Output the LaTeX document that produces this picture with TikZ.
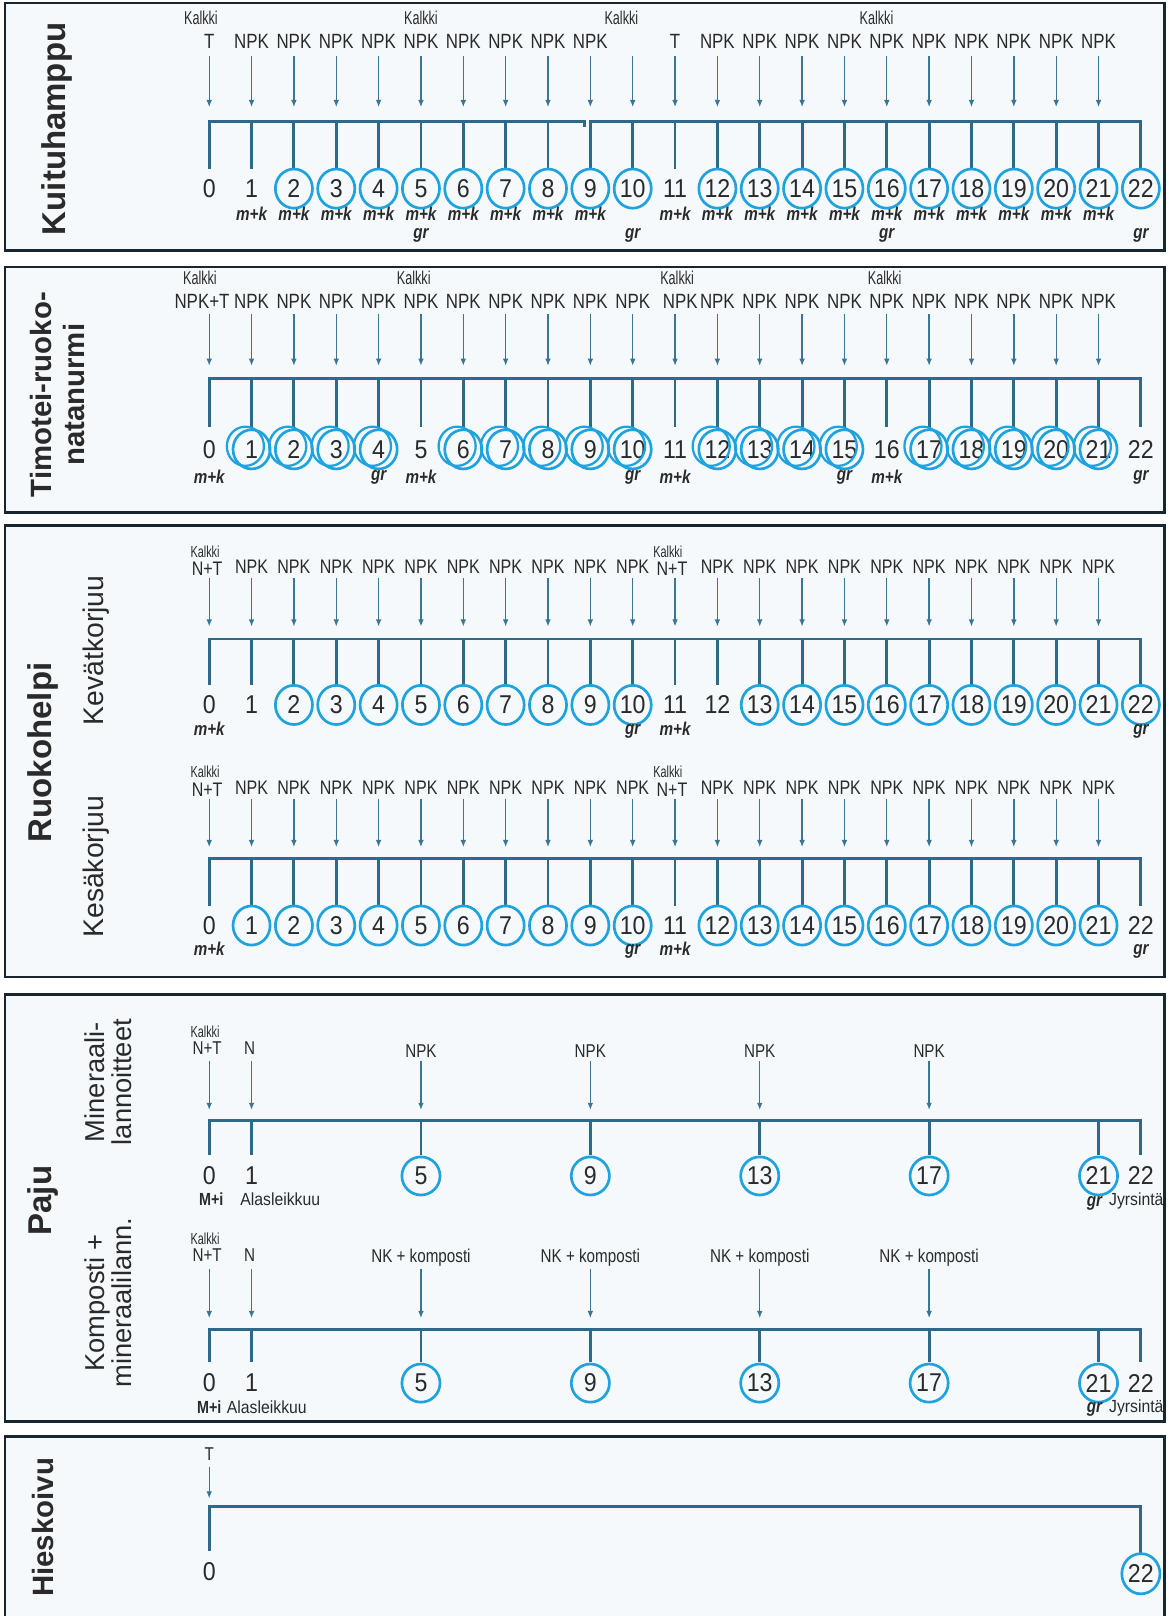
\documentclass[tikz,border=0pt]{standalone}
\usepackage{fontspec}
\setmainfont{Liberation Sans}
\newfontfamily\cnd{Liberation Sans}[FakeStretch=0.82]
\newfontfamily\cndk{Liberation Sans}[FakeStretch=0.68]
\newfontfamily\cnum{Liberation Sans}[FakeStretch=0.9]
\usetikzlibrary{arrows.meta,shapes.geometric}
\definecolor{lineblue}{HTML}{2D6A89}
\definecolor{arrblue}{HTML}{3A7694}
\definecolor{circblue}{HTML}{1FA3DF}
\definecolor{frame}{HTML}{18262E}
\definecolor{panelbg}{HTML}{F5F9FC}
\definecolor{txt}{HTML}{2A2A2A}
\newcommand\posx[1]{203+41.09*#1}
\begin{document}
\begin{tikzpicture}[x=1pt,y=-1pt,
  panel/.style={draw=frame,line width=2.6pt,fill=panelbg},
  ttl/.style={rotate=90,font=\bfseries\fontsize{32}{33}\selectfont,text=txt,align=center,inner sep=0pt},
  ttlsm/.style={rotate=90,font=\bfseries\fontsize{28.5}{32}\selectfont,text=txt,align=center,inner sep=0pt},
  sub/.style={rotate=90,font=\fontsize{27.5}{30}\selectfont,text=txt,align=center,inner sep=0pt},
  subtwo/.style={rotate=90,font=\fontsize{26.5}{27}\selectfont,text=txt,align=center,inner sep=0pt},
  lab/.style={font=\cnd\fontsize{20}{20}\selectfont,text=txt,inner sep=0pt},
  labs/.style={font=\cnd\fontsize{19}{19}\selectfont,text=txt,inner sep=0pt},
  labp/.style={font=\cnd\fontsize{18}{18}\selectfont,text=txt,inner sep=0pt},
  labq/.style={font=\cnum\fontsize{17}{17}\selectfont,text=txt,inner sep=0pt},
  kal/.style={font=\cndk\fontsize{18}{18}\selectfont,text=txt,inner sep=0pt},
  kals/.style={font=\cndk\fontsize{15.5}{15.5}\selectfont,text=txt,inner sep=0pt},
  mk/.style={font=\cnd\bfseries\itshape\fontsize{18}{18}\selectfont,text=txt,inner sep=0pt},
  mkb/.style={font=\cnd\bfseries\fontsize{17}{17}\selectfont,text=txt,inner sep=0pt},
  num/.style={font=\cnum\fontsize{25}{25}\selectfont,text=txt,inner sep=0pt},
  circ/.style={ellipse,draw=circblue,line width=2.6pt,minimum width=36pt,minimum height=38pt},
  circp/.style={ellipse,draw=circblue,line width=2.6pt,minimum width=37pt,minimum height=37pt},
  ring/.style={draw=circblue,line width=2.2pt},
  ln/.style={draw=lineblue,line width=2.8pt,line join=miter},
  arr/.style={draw=arrblue,line width=1.3pt,-{Latex[length=7pt,width=5.5pt]}},
]
\useasboundingbox (0,0) rectangle (1135,1568);
\fill[white] (0,0) rectangle (1135,1568);

%================ Panel 1: Kuituhamppu
\draw[panel] (5,3) rectangle (1130,243);
\node[ttl] (t-kuitu) at (55,125) {Kuituhamppu};
\foreach \i in {0,...,22}{
  \coordinate (l1-\i) at ({\posx{\i}},118);
  \coordinate (e1-\i) at ({\posx{\i}},164);
}
\foreach \i in {0,...,21}{
  \coordinate (a1-\i) at ({\posx{\i}},54);
  \coordinate (b1-\i) at ({\posx{\i}},104);
  \draw[arr] (a1-\i) -- (b1-\i);
}
\coordinate (s1) at ({\posx{9}-6},118);
\draw[ln] (e1-0) -- (l1-0) -- (s1) -- ++(0,5);
\draw[ln] (e1-9) -- (l1-9) -- (l1-22) -- (e1-22);
\foreach \i in {1,2,3,4,5,6,7,8,10,11,12,13,14,15,16,17,18,19,20,21}
  \draw[ln] (l1-\i) -- (e1-\i);
\foreach \i in {0,1,11} \node[num] (n1-\i) at ({\posx{\i}},183) {\i};
\foreach \i in {2,3,4,5,6,7,8,9,10,12,13,14,15,16,17,18,19,20,21,22}
  \node[num,circ] (n1-\i) at ({\posx{\i}},183) {\i};
\node[lab] (p1-0) at ({\posx{0}},40) {T};
\foreach \i in {1,...,9} \node[lab] (p1-\i) at ({\posx{\i}},40) {NPK};
\node[lab] (p1-11) at ({\posx{11}},40) {T};
\foreach \i in {12,...,21} \node[lab] (p1-\i) at ({\posx{\i}},40) {NPK};
\node[kal] (k1-0) at ({\posx{0}-8},17) {Kalkki};
\node[kal] (k1-5) at ({\posx{5}},17) {Kalkki};
\node[kal] (k1-10) at ({\posx{10}-11},17) {Kalkki};
\node[kal] (k1-16) at ({\posx{16}-10},17) {Kalkki};
\foreach \i in {1,2,3,4,5,6,7,8,9,11,12,13,14,15,16,17,18,19,20,21}
  \node[mk] (m1-\i) at ({\posx{\i}},207) {m+k};
\foreach \i in {5,10,16,22} \node[mk] (g1-\i) at ({\posx{\i}},228) {gr};

%================ Panel 2: Timotei-ruokonatanurmi
\draw[panel] (5,259) rectangle (1130,497);
\node[ttlsm] (t-timo) at (56,383) {Timotei-ruoko-\\natanurmi};
\foreach \i in {0,...,22}{
  \coordinate (l2-\i) at ({\posx{\i}},367);
  \coordinate (e2-\i) at ({\posx{\i}},414);
}
\foreach \i in {0,...,21}{
  \coordinate (a2-\i) at ({\posx{\i}},305);
  \coordinate (b2-\i) at ({\posx{\i}},355);
  \draw[arr] (a2-\i) -- (b2-\i);
}
\draw[ln] (e2-0) -- (l2-0) -- (l2-22) -- (e2-22);
\foreach \i in {1,...,21} \draw[ln] (l2-\i) -- (e2-\i);
\foreach \i in {0,5,11,16,22} \node[num] (n2-\i) at ({\posx{\i}},436) {\i};
\foreach \i in {1,2,3,4,6,7,8,9,10,12,13,14,15,17,18,19,20,21}{
  \node[num,circ] (n2-\i) at ({\posx{\i}},436) {\i};
  \draw[ring] ([shift={(-6,-3)}]n2-\i.center) ellipse [x radius=18pt,y radius=19pt];
}
\node[lab] (p2-0) at (196,292) {NPK+T};
\foreach \i in {1,...,10} \node[lab] (p2-\i) at ({\posx{\i}},292) {NPK};
\node[lab] (p2-11) at ({\posx{11}+5},292) {NPK};
\foreach \i in {12,...,21} \node[lab] (p2-\i) at ({\posx{\i}},292) {NPK};
\node[kal] (k2-0) at ({\posx{0}-9},270) {Kalkki};
\node[kal] (k2-5) at ({\posx{5}-7},270) {Kalkki};
\node[kal] (k2-11) at ({\posx{11}+2},270) {Kalkki};
\node[kal] (k2-16) at ({\posx{16}-2},270) {Kalkki};
\foreach \i in {0,5,11,16} \node[mk] (m2-\i) at ({\posx{\i}},463) {m+k};
\foreach \i in {4,10,15,22} \node[mk] (g2-\i) at ({\posx{\i}},463) {gr};

%================ Panel 3: Ruokohelpi
\draw[panel] (5,510) rectangle (1130,948);
\node[ttl] (t-ruoko) at (42,730) {Ruokohelpi};
\node[sub] (s-kevat) at (93,631) {Kevätkorjuu};
\node[sub] (s-kesa) at (93,841) {Kesäkorjuu};
% --- Kevätkorjuu
\foreach \i in {0,...,22}{
  \coordinate (l3-\i) at ({\posx{\i}},620);
  \coordinate (e3-\i) at ({\posx{\i}},665);
}
\foreach \i in {0,...,21}{
  \coordinate (a3-\i) at ({\posx{\i}},561);
  \coordinate (b3-\i) at ({\posx{\i}},608);
  \draw[arr] (a3-\i) -- (b3-\i);
}
\draw[ln] (e3-0) -- (l3-0) -- (l3-22) -- (e3-22);
\foreach \i in {1,...,21} \draw[ln] (l3-\i) -- (e3-\i);
\foreach \i in {0,1,11,12} \node[num] (n3-\i) at ({\posx{\i}},684) {\i};
\foreach \i in {2,3,4,5,6,7,8,9,10,13,14,15,16,17,18,19,20,21,22}
  \node[num,circ] (n3-\i) at ({\posx{\i}},684) {\i};
\node[labs] (p3-0) at ({\posx{0}-2},552) {N+T};
\foreach \i in {1,...,10} \node[labs] (p3-\i) at ({\posx{\i}},550) {NPK};
\node[labs] (p3-11) at ({\posx{11}-3},552) {N+T};
\foreach \i in {12,...,21} \node[labs] (p3-\i) at ({\posx{\i}},550) {NPK};
\node[kals] (k3-0) at ({\posx{0}-4},535) {Kalkki};
\node[kals] (k3-11) at ({\posx{11}-7},535) {Kalkki};
\foreach \i in {0,11} \node[mk] (m3-\i) at ({\posx{\i}},707) {m+k};
\foreach \i in {10,22} \node[mk] (g3-\i) at ({\posx{\i}},710) {gr};
% --- Kesäkorjuu
\foreach \i in {0,...,22}{
  \coordinate (l4-\i) at ({\posx{\i}},833);
  \coordinate (e4-\i) at ({\posx{\i}},879);
}
\foreach \i in {0,...,21}{
  \coordinate (a4-\i) at ({\posx{\i}},775);
  \coordinate (b4-\i) at ({\posx{\i}},822);
  \draw[arr] (a4-\i) -- (b4-\i);
}
\draw[ln] (e4-0) -- (l4-0) -- (l4-22) -- (e4-22);
\foreach \i in {1,...,21} \draw[ln] (l4-\i) -- (e4-\i);
\foreach \i in {0,11,22} \node[num] (n4-\i) at ({\posx{\i}},898) {\i};
\foreach \i in {1,2,3,4,5,6,7,8,9,10,12,13,14,15,16,17,18,19,20,21}
  \node[num,circ] (n4-\i) at ({\posx{\i}},898) {\i};
\node[labs] (p4-0) at ({\posx{0}-2},766) {N+T};
\foreach \i in {1,...,10} \node[labs] (p4-\i) at ({\posx{\i}},764) {NPK};
\node[labs] (p4-11) at ({\posx{11}-3},766) {N+T};
\foreach \i in {12,...,21} \node[labs] (p4-\i) at ({\posx{\i}},764) {NPK};
\node[kals] (k4-0) at ({\posx{0}-4},749) {Kalkki};
\node[kals] (k4-11) at ({\posx{11}-7},749) {Kalkki};
\foreach \i in {0,11} \node[mk] (m4-\i) at ({\posx{\i}},921) {m+k};
\foreach \i in {10,22} \node[mk] (g4-\i) at ({\posx{\i}},923) {gr};

%================ Panel 4: Paju
\draw[panel] (5,965) rectangle (1130,1379);
\node[ttl] (t-paju) at (42,1165) {Paju};
\node[subtwo] (s-min) at (105,1050) {Mineraali-\\lannoitteet};
\node[subtwo] (s-komp) at (105,1264) {Komposti +\\mineraalilann.};
% --- Mineraalilannoitteet
\foreach \i in {0,1,5,9,13,17,21,22}{
  \coordinate (l5-\i) at ({\posx{\i}},1087);
  \coordinate (e5-\i) at ({\posx{\i}},1121);
}
\foreach \i in {0,1,5,9,13,17}{
  \coordinate (a5-\i) at ({\posx{\i}},1029);
  \coordinate (b5-\i) at ({\posx{\i}},1077);
  \draw[arr] (a5-\i) -- (b5-\i);
}
\draw[ln] (e5-0) -- (l5-0) -- (l5-22) -- (e5-22);
\foreach \i in {1,5,9,13,17,21} \draw[ln] (l5-\i) -- (e5-\i);
\foreach \i in {0,1,22} \node[num] (n5-\i) at ({\posx{\i}},1141) {\i};
\foreach \i in {5,9,13,17,21} \node[num,circp] (n5-\i) at ({\posx{\i}},1141) {\i};
\node[kals] (k5-0) at ({\posx{0}-4},1001) {Kalkki};
\node[labp] (p5-0) at ({\posx{0}-2},1017) {N+T};
\node[labp] (p5-1) at ({\posx{1}-2},1017) {N};
\foreach \i in {5,9,13,17} \node[labp] (p5-\i) at ({\posx{\i}},1020) {NPK};
\node[mkb] (m5-0) at ({\posx{0}+2},1164) {M+i};
\node[labq,anchor=west] (q5-1) at (233,1164) {Alasleikkuu};
\node[mk] (g5-21) at ({\posx{21}-4},1168) {gr};
\node[labq,anchor=west] (q5-22) at (1076,1165) {Jyrsintä};
% --- Komposti + mineraalilann.
\foreach \i in {0,1,5,9,13,17,21,22}{
  \coordinate (l6-\i) at ({\posx{\i}},1290);
  \coordinate (e6-\i) at ({\posx{\i}},1322);
}
\foreach \i in {0,1,5,9,13,17}{
  \coordinate (a6-\i) at ({\posx{\i}},1231);
  \coordinate (b6-\i) at ({\posx{\i}},1279);
  \draw[arr] (a6-\i) -- (b6-\i);
}
\draw[ln] (e6-0) -- (l6-0) -- (l6-22) -- (e6-22);
\foreach \i in {1,5,9,13,17,21} \draw[ln] (l6-\i) -- (e6-\i);
\foreach \i in {0,1,22} \node[num] (n6-\i) at ({\posx{\i}},1342) {\i};
\foreach \i in {5,9,13,17,21} \node[num,circp] (n6-\i) at ({\posx{\i}},1342) {\i};
\node[kals] (k6-0) at ({\posx{0}-4},1202) {Kalkki};
\node[labp] (p6-0) at ({\posx{0}-2},1218) {N+T};
\node[labp] (p6-1) at ({\posx{1}-2},1218) {N};
\foreach \i in {5,9,13,17} \node[labp] (p6-\i) at ({\posx{\i}},1220) {NK + komposti};
\node[mkb] (m6-0) at ({\posx{0}},1365) {M+i};
\node[labq,anchor=west] (q6-1) at (220,1365) {Alasleikkuu};
\node[mk] (g6-21) at ({\posx{21}-4},1368) {gr};
\node[labq,anchor=west] (q6-22) at (1076,1366) {Jyrsintä};

%================ Panel 5: Hieskoivu
\draw[panel] (5,1394) rectangle (1130,1640);
\node[ttlsm] (t-hies) at (42,1482) {Hieskoivu};
\coordinate (l7-0) at ({\posx{0}},1462);
\coordinate (e7-0) at ({\posx{0}},1505);
\coordinate (l7-22) at ({\posx{22}},1462);
\coordinate (e7-22) at ({\posx{22}},1507);
\coordinate (a7-0) at ({\posx{0}},1423);
\coordinate (b7-0) at ({\posx{0}},1454);
\draw[arr] (a7-0) -- (b7-0);
\draw[ln] (e7-0) -- (l7-0) -- (l7-22) -- (e7-22);
\node[labp] (p7-0) at ({\posx{0}},1411) {T};
\node[num] (n7-0) at ({\posx{0}},1525) {0};
\node[num,circp,minimum height=39pt] (n7-22) at ({\posx{22}},1527) {22};
\end{tikzpicture}
\end{document}
